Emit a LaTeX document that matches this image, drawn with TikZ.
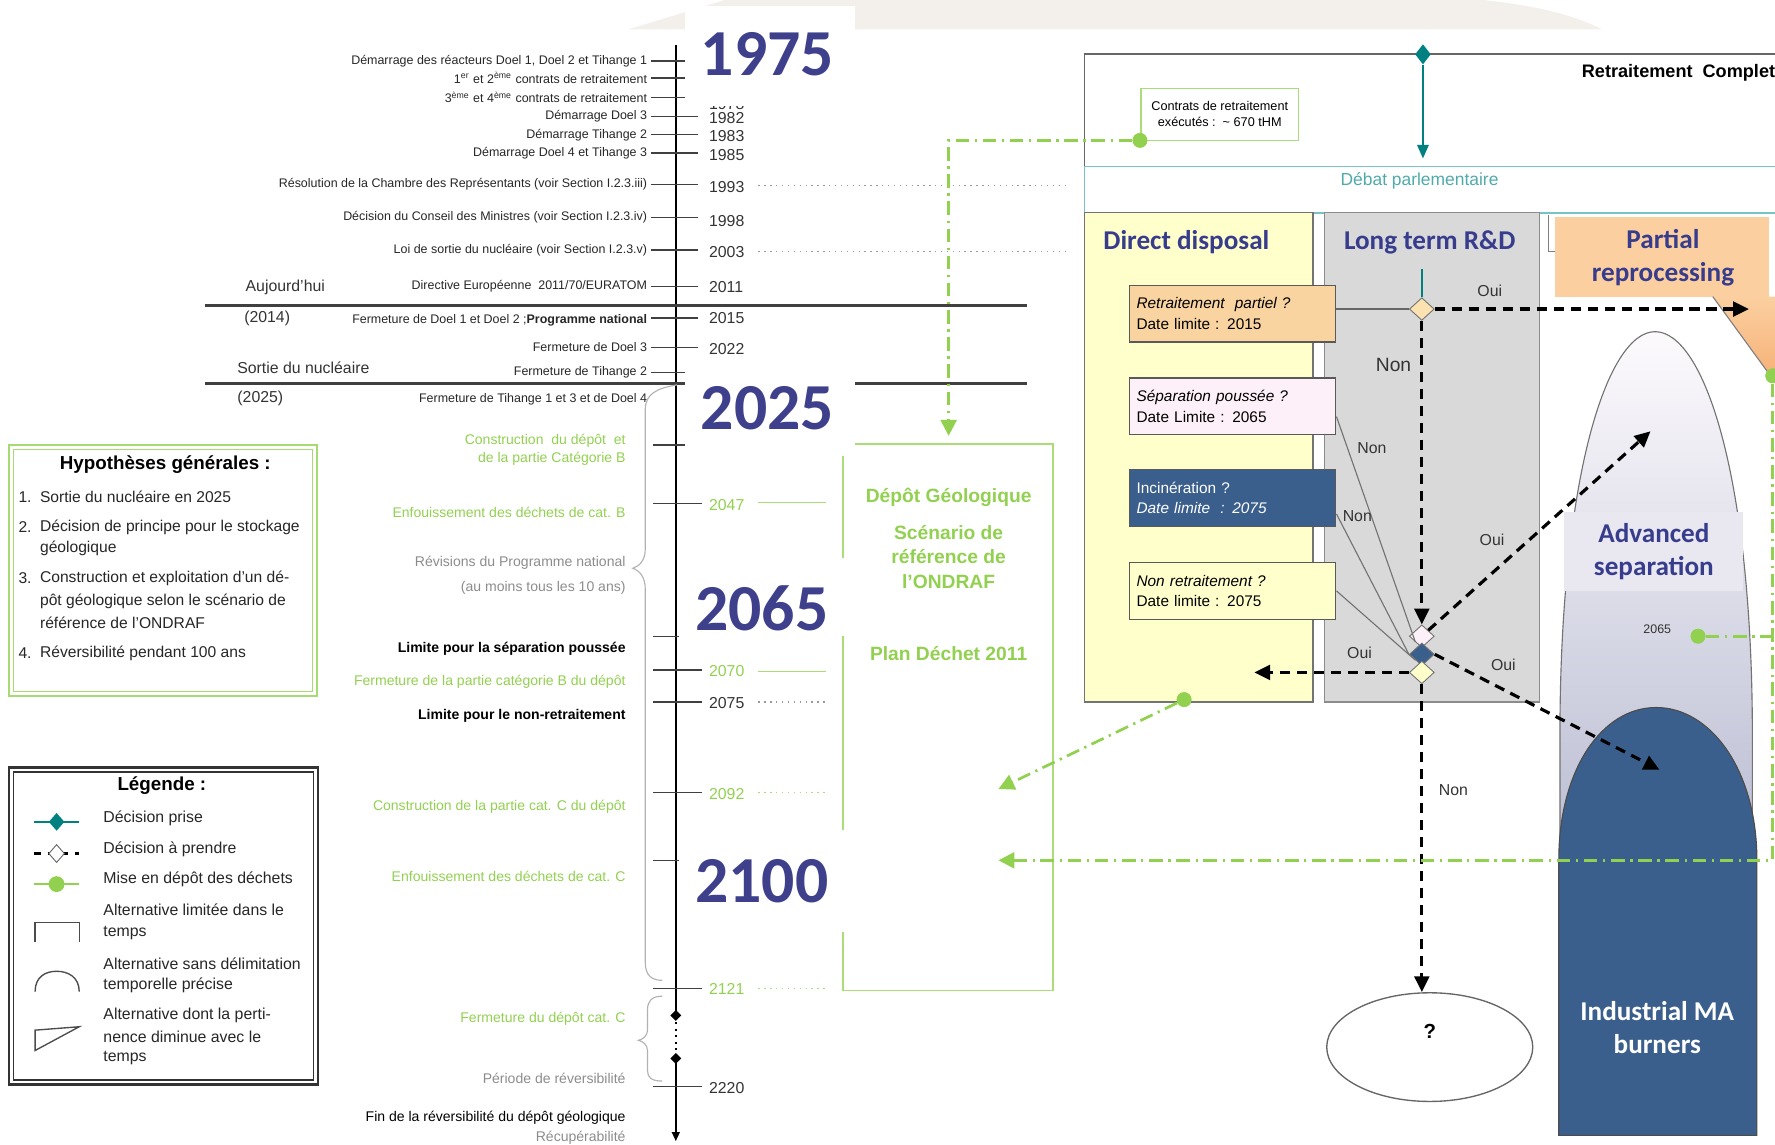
\documentclass[tikz,border=0pt]{standalone}
\usepackage{fontspec}
\setmainfont{Liberation Sans}
\newfontfamily\carl{Carlito}
\usetikzlibrary{arrows.meta,shapes.geometric,calc}
\newcommand\myfs[2]{\fontsize{#1}{#2}\selectfont}
\definecolor{yrblue}{RGB}{62,64,140}
\definecolor{ttlblue}{RGB}{55,60,140}
\definecolor{ondgreen}{RGB}{146,208,80}
\definecolor{lgreen}{RGB}{170,220,120}
\definecolor{tealD}{RGB}{0,128,128}
\definecolor{tealL}{RGB}{120,195,195}
\definecolor{tealT}{RGB}{80,170,170}
\definecolor{ddyel}{RGB}{255,255,204}
\definecolor{rdgrey}{RGB}{217,217,217}
\definecolor{prorange}{RGB}{251,207,160}
\definecolor{rporange}{RGB}{250,212,160}
\definecolor{dblue}{RGB}{59,95,140}
\definecolor{pinkL}{RGB}{253,240,248}
\definecolor{beige}{RGB}{243,240,236}
\definecolor{asbox}{RGB}{233,231,239}
\begin{document}
\begin{tikzpicture}[x=0.5pt,y=-0.5pt,
  evt/.style={anchor=east, inner sep=0pt, font=\myfs{5.5}{6.6}, text=black!85},
  evtg/.style={anchor=east, inner sep=0pt, font=\myfs{6.2}{7.4}, text=ondgreen},
  evtgr/.style={anchor=east, inner sep=0pt, font=\myfs{6.2}{7.4}, text=black!45},
  evtb/.style={anchor=east, inner sep=0pt, font=\bfseries\myfs{6.2}{7.4}, text=black},
  yrlab/.style={anchor=west, inner sep=0pt, font=\myfs{7}{8.4}, text=black!80},
  yrlabg/.style={yrlab, text=ondgreen},
  tk/.style={draw=black!75, line width=0.6pt},
  bigyr/.style={font=\carl\bfseries\myfs{29}{34}, text=yrblue, inner sep=0pt},
  ttl/.style={font=\carl\bfseries\myfs{12}{14.5}, text=ttlblue, align=center, inner sep=0pt},
  dbox/.style={draw=black!65, line width=0.6pt, minimum width=91pt, minimum height=25pt, text width=85pt, inner sep=3pt, align=left, font=\myfs{6.8}{9}},
  dec/.style={diamond, draw=black!55, line width=0.4pt, minimum width=11pt, minimum height=10pt, inner sep=0pt},
  darr/.style={black, line width=1.4pt, dash pattern=on 4.5pt off 3pt, -{Triangle[length=7pt,width=6.5pt]}},
  lab/.style={font=\myfs{7}{8.4}, text=black!80, inner sep=0pt},
  gdd/.style={ondgreen, line width=1.2pt, dash pattern=on 6pt off 2.5pt on 1pt off 2.5pt},
  garr/.style={gdd, -{Triangle[length=7pt,width=7pt]}},
  gdot/.style={circle, fill=ondgreen, inner sep=0pt, minimum size=6.5pt},
  legt/.style={anchor=west, inner sep=0pt, font=\myfs{7}{8.4}, text=black!85},
  hyp/.style={anchor=west, inner sep=0pt, font=\myfs{6.9}{8.4}, text=black!85},
  gline/.style={draw=lgreen, line width=0.6pt},
  dline/.style={draw=black!40, line width=0.6pt, dotted},
]
\useasboundingbox (0,0) rectangle (1568,1011);
% background shape at top
\fill[beige] (555,26) -- (640,0) -- (1310,0) .. controls (1360,5) and (1395,15) .. (1415,26) -- cycle;

% ---------------- timeline ----------------
\coordinate (axTop) at (597,40);
\coordinate (axM1) at (597,897);
\coordinate (axM2) at (597,935);
\coordinate (axBot) at (597,1008);
\draw[black, line width=0.7pt] (axTop) -- (axM1);
\draw[black, line width=0.9pt, dotted] (axM1) -- (axM2);
\draw[black, line width=0.7pt, -{Triangle[length=4pt,width=3.5pt]}] (axM2) -- (axBot);
\node[diamond, fill=black, minimum width=5pt, minimum height=5pt, inner sep=0pt] (mk1) at (axM1) {};
\node[diamond, fill=black, minimum width=5pt, minimum height=5pt, inner sep=0pt] (mk2) at (axM2) {};

% thick separators
\draw[black!75, line width=1.3pt] (181,270) -- (907,270);
\draw[black!75, line width=1.3pt] (181,339) -- (907,339);

% upper events
\node[evt] (e1) at (572,54) {Démarrage des réacteurs Doel 1, Doel 2 et Tihange 1};
\draw[tk] (575,54) -- (605,54);
\node[evt] (e2) at (572,69) {1\textsuperscript{er} et 2\textsuperscript{ème} contrats de retraitement};
\draw[tk] (575,69) -- (605,69);
\node[evt] (e3) at (572,86) {3\textsuperscript{ème} et 4\textsuperscript{ème} contrats de retraitement};
\draw[tk] (575,86) -- (605,86);
\node[yrlab] (y1978) at (626,92) {1978};
\node[evt] (e4) at (572,103) {Démarrage Doel 3};
\draw[tk] (575,103) -- (617,103);
\node[yrlab] (y1982) at (626,104) {1982};
\node[evt] (e5) at (572,119) {Démarrage Tihange 2};
\draw[tk] (575,119) -- (617,119);
\node[yrlab] (y1983) at (626,120) {1983};
\node[evt] (e6) at (572,135) {Démarrage Doel 4 et Tihange 3};
\draw[tk] (575,135) -- (617,135);
\node[yrlab] (y1985) at (626,137) {1985};
\node[evt] (e7) at (572,163) {Résolution de la Chambre des Représentants (voir Section I.2.3.iii)};
\draw[tk] (575,163) -- (617,163);
\node[yrlab] (y1993) at (626,165) {1993};
\draw[dline] (670,164) -- (945,164);
\node[evt] (e8) at (572,192) {Décision du Conseil des Ministres (voir Section I.2.3.iv)};
\draw[tk] (575,192) -- (617,192);
\node[yrlab] (y1998) at (626,195) {1998};
\node[evt] (e9) at (572,221) {Loi de sortie du nucléaire (voir Section I.2.3.v)};
\draw[tk] (575,221) -- (617,221);
\node[yrlab] (y2003) at (626,223) {2003};
\draw[dline] (670,222) -- (945,222);
\node[evt] (e10) at (572,253) {Directive Européenne\ \ 2011/70/EURATOM};
\draw[tk] (575,253) -- (617,253);
\node[yrlab] (y2011) at (626,254) {2011};
\node[evt] (e11) at (572,283) {Fermeture de Doel 1 et Doel 2 ;\textbf{Programme national}};
\draw[tk] (575,281) -- (617,281);
\node[yrlab] (y2015) at (626,281) {2015};
\node[evt] (e12) at (572,307) {Fermeture de Doel 3};
\draw[tk] (575,307) -- (617,307);
\node[yrlab] (y2022) at (626,308) {2022};
\node[evt] (e13) at (572,329) {Fermeture de Tihange 2};
\draw[tk] (575,329) -- (605,329);
\node[evt] (e14) at (572,353) {Fermeture de Tihange 1 et 3 et de Doel 4};

\node[font=\myfs{7}{8.4}, text=black!80, inner sep=0pt] (auj) at (252,254) {Aujourd'hui};
\node[font=\myfs{7}{8.4}, text=black!80, inner sep=0pt] (p2014) at (236,281) {(2014)};
\node[font=\myfs{7}{8.4}, text=black!80, inner sep=0pt] (sortie) at (268,325) {Sortie du nucléaire};
\node[font=\myfs{7}{8.4}, text=black!80, inner sep=0pt] (p2025) at (230,352) {(2025)};

% braces
\draw[black!30, line width=0.5pt] (598,340) .. controls (580,343) and (570,348) .. (570,362) -- (570,485) .. controls (570,495) and (565,500) .. (559,502) .. controls (565,504) and (570,510) .. (570,520) -- (570,850) .. controls (570,862) and (576,866) .. (585,866);
\draw[black!30, line width=0.5pt] (585,880) .. controls (576,880) and (572,884) .. (572,892) -- (572,910) .. controls (572,915) and (568,918) .. (564,919) .. controls (568,920) and (572,923) .. (572,928) -- (572,946) .. controls (572,952) and (576,955) .. (585,955);

% lower events
\node[evtg] (f1) at (553,389) {Construction\ \ du dépôt\ \ et};
\node[evtg] (f1b) at (553,405) {de la partie Catégorie B};
\draw[tk] (577,393) -- (605,393);
\node[evtg] (f2) at (553,453) {Enfouissement des déchets de cat. B};
\draw[tk] (577,445) -- (620,445);
\node[yrlabg] (y2047) at (626,446) {2047};
\draw[gline] (670,444) -- (730,444);
\node[evtgr] (f3) at (553,497) {Révisions du Programme national};
\node[evtgr] (f3b) at (553,519) {(au moins tous les 10 ans)};
\node[evtb] (f4) at (553,573) {Limite pour la séparation poussée};
\draw[tk] (577,562) -- (600,562);
\node[evtg] (f5) at (553,602) {Fermeture de la partie catégorie B du dépôt};
\draw[tk] (577,592) -- (620,592);
\node[yrlabg] (y2070) at (626,593) {2070};
\draw[gline] (670,593) -- (730,593);
\node[evtb] (f6) at (553,632) {Limite pour le non-retraitement};
\draw[tk] (577,620) -- (620,620);
\node[yrlab] (y2075) at (626,621) {2075};
\draw[dline] (670,620) -- (730,620);
\node[evtg] (f7) at (553,713) {Construction de la partie cat. C du dépôt};
\draw[tk] (577,700) -- (620,700);
\node[yrlabg] (y2092) at (626,701) {2092};
\draw[gline, dotted] (670,700) -- (730,700);
\node[evtg] (f8) at (553,774) {Enfouissement des déchets de cat. C};
\draw[tk] (577,760) -- (600,760);
\draw[tk] (577,873) -- (620,873);
\node[yrlabg] (y2121) at (626,874) {2121};
\draw[gline, dotted] (670,873) -- (730,873);
\node[evtg] (f9) at (553,900) {Fermeture du dépôt cat. C};
\node[evtgr] (f10) at (553,953) {Période de réversibilité};
\draw[tk] (577,960) -- (620,960);
\node[yrlab] (y2220) at (626,961) {2220};
\node[evt, font=\myfs{6.2}{7.4}, text=black] (f11) at (553,987) {Fin de la réversibilité du dépôt géologique};
\node[evtgr] (f12) at (553,1005) {Récupérabilité};

% Depot geologique box
\draw[lgreen, line width=0.8pt] (745,392) rectangle (930,875);
\node[font=\bfseries\myfs{8.5}{10}, text=ondgreen, inner sep=0pt] (dg1) at (838,439) {Dépôt Géologique};
\node[font=\bfseries\myfs{8.5}{11}, text=ondgreen, align=center, inner sep=0pt] (dg2) at (838,492) {Scénario de\\référence de\\l’ONDRAF};
\node[font=\bfseries\myfs{8.5}{10}, text=ondgreen, inner sep=0pt] (dg3) at (838,577) {Plan Déchet 2011};

% white boxes and big years
\fill[white] (605,5) rectangle (755,94);
\fill[white] (605,333) rectangle (755,403);
\fill[white] (605,493) rectangle (750,562);
\fill[white] (605,733) rectangle (750,823);
\node[bigyr] (Y1975) at (678,48) {1975};
\node[bigyr] (Y2025) at (678,361) {2025};
\node[bigyr] (Y2065) at (673,537) {2065};
\node[bigyr] (Y2100) at (673,778) {2100};

% ---------------- Hypotheses box ----------------
\draw[ondgreen!80, line width=0.8pt] (8,393) rectangle (280,615);
\draw[ondgreen!80, line width=0.6pt] (12,397) rectangle (276,611);
\node[font=\bfseries\myfs{8.3}{10}, inner sep=0pt] (hypT) at (146,410) {Hypothèses générales :};
\node[hyp] (h1n) at (16,439) {1.};
\node[hyp] (h1) at (35,439) {Sortie du nucléaire en 2025};
\node[hyp] (h2n) at (16,466) {2.};
\node[hyp] (h2) at (35,466) {Décision de principe pour le stockage};
\node[hyp] (h2b) at (35,484) {géologique};
\node[hyp] (h3n) at (16,511) {3.};
\node[hyp] (h3) at (35,511) {Construction et exploitation d’un dé-};
\node[hyp] (h3b) at (35,531) {pôt géologique selon le scénario de};
\node[hyp] (h3c) at (35,550) {référence de l’ONDRAF};
\node[hyp] (h4n) at (16,577) {4.};
\node[hyp] (h4) at (35,577) {Réversibilité pendant 100 ans};

% ---------------- Legend ----------------
\draw[black!80, line width=1.2pt] (8,678) rectangle (281,958);
\draw[black!80, line width=0.5pt] (12,682) rectangle (277,954);
\node[font=\bfseries\myfs{8.3}{10}, inner sep=0pt] (legT) at (143,694) {Légende :};
\draw[tealD, line width=1pt] (30,726) -- (70,726);
\node[diamond, fill=tealD, minimum width=7pt, minimum height=8pt, inner sep=0pt] (lg1) at (50,726) {};
\draw[black, line width=1pt, dash pattern=on 3pt off 3pt] (30,754) -- (70,754);
\node[diamond, draw=black!60, fill=white, minimum width=7pt, minimum height=8pt, inner sep=0pt] (lg2) at (50,754) {};
\draw[ondgreen, line width=1.2pt] (30,781) -- (70,781);
\node[gdot, minimum size=7pt] (lg3) at (50,781) {};
\draw[black!70, line width=0.6pt] (31,832) -- (31,815) -- (70,815) -- (70,832);
\draw[black!70, line width=0.6pt] (31,876) .. controls (31,863) and (40,858) .. (50,858) .. controls (60,858) and (70,863) .. (70,876);
\draw[black!70, line width=0.6pt] (31,928) -- (31,910) -- (70,907) -- cycle;
\node[legt] (l1) at (91,723) {Décision prise};
\node[legt] (l2) at (91,750) {Décision à prendre};
\node[legt] (l3) at (91,777) {Mise en dépôt des déchets};
\node[legt] (l4) at (91,804) {Alternative limitée dans le};
\node[legt] (l4b) at (91,824) {temps};
\node[legt] (l5) at (91,851) {Alternative sans délimitation};
\node[legt] (l5b) at (91,870) {temporelle précise};
\node[legt] (l6) at (91,897) {Alternative dont la perti-};
\node[legt] (l6b) at (91,916) {nence diminue avec le};
\node[legt] (l6c) at (91,935) {temps};

% ---------------- right part ----------------
\draw[black!60, line width=0.8pt] (1568,48) -- (958,48) -- (958,147);
\draw[tealL, line width=0.8pt] (1568,147) -- (958,147) -- (958,188) -- (1568,188);
\node[text=tealT, font=\myfs{7.7}{9}, inner sep=0pt] (debat) at (1254,160) {Débat parlementaire};
\node[anchor=west, font=\bfseries\myfs{8}{9.6}, inner sep=0pt] (rc) at (1397,64) {Retraitement\ \ Complet};
\node[draw=lgreen, line width=0.6pt, align=center, font=\myfs{5.6}{7}, minimum width=69.5pt, minimum height=23pt, inner sep=1pt] (contrats) at (1077.5,101) {Contrats de retraitement\\exécutés :\ \ \textasciitilde\ 670 tHM};
\node[diamond, fill=tealD, minimum width=7pt, minimum height=9pt, inner sep=0pt] (td) at (1257,48) {};
\coordinate (tdEnd) at (1257,140);
\draw[tealD, line width=0.9pt, -{Triangle[length=6pt,width=5pt]}] (td) -- (tdEnd);

% columns
\draw[black!55, line width=0.6pt, fill=ddyel] (958,188) rectangle (1160,620);
\draw[black!45, line width=0.6pt, fill=rdgrey] (1170,188) rectangle (1360,620);
\draw[black!50, line width=0.6pt] (1368,190) -- (1368,222) -- (1374,222);
\node[ttl] (ddT) at (1048,214) {Direct disposal};
\node[ttl] (rdT) at (1263,214) {Long term R\&D};
\fill[prorange] (1374,192) rectangle (1563,262);
\node[ttl] (prT) at (1469,228) {Partial\\reprocessing};
\path[top color=prorange, bottom color={rgb,255:red,246;green,178;blue,120}] (1513,262) -- (1568,262) -- (1568,332) -- (1564,332) -- cycle;
\draw[black!50, line width=0.5pt] (1513,262) -- (1564,332);

% advanced separation shape
\path[draw=black!55, line width=0.5pt, top color={rgb,255:red,253;green,250;blue,253}, bottom color={rgb,255:red,150;green,157;blue,188}] (1378,1003) -- (1378,650) .. controls (1378,420) and (1420,293) .. (1462,293) .. controls (1505,293) and (1548,420) .. (1548,650) -- (1548,1003) -- cycle;
\fill[asbox] (1382,452) rectangle (1540,522);
\node[ttl] (asT) at (1461,487) {Advanced\\separation};
\node[font=\myfs{5.5}{6.6}, text=black!80, inner sep=0pt] (as65) at (1464,556) {2065};
% industrial burners
\path[draw=black!70, line width=0.5pt, fill=dblue] (1377,1003) -- (1377,760) .. controls (1377,680) and (1415,625) .. (1463,625) .. controls (1511,625) and (1552,680) .. (1552,760) -- (1552,1003) -- cycle;
\node[ttl, text=white] (imT) at (1464,908) {Industrial MA\\burners};

% decision boxes
\node[dbox, fill=rporange] (rp) at (1089,277) {\textit{Retraitement\ \ partiel ?}\\Date limite : 2015};
\node[dbox, fill=pinkL] (sp) at (1089,359) {\textit{Séparation poussée ?}\\Date Limite : 2065};
\node[dbox, fill=dblue, text=white] (inc) at (1089,440) {Incinération ?\\\textit{Date limite\ \ : 2075}};
\node[dbox, fill=ddyel] (nr) at (1089,522) {\textit{Non retraitement ?}\\Date limite : 2075};

% diamonds
\node[dec, fill={rgb,255:red,252;green,226;blue,176}] (d1) at (1256,273) {};
\node[dec, fill=pinkL] (d2) at (1256,562) {};
\node[dec, fill=dblue] (d3) at (1256,578) {};
\node[dec, fill=ddyel] (d4) at (1256,594) {};

\coordinate (tealtop) at (1256,238);
\draw[tealD, line width=0.8pt] (tealtop) -- (d1.north);
\draw[black!60, line width=0.6pt] (rp.east |- d1.west) -- (d1.west);
\draw[black!55, line width=0.5pt] ([yshift=-4.5pt]sp.east) -- (d2.south west);
\draw[black!55, line width=0.5pt] ([yshift=-7pt]inc.east) -- (d3.west);
\draw[black!55, line width=0.5pt] (nr.east) -- (d3.south west);

% question ellipse
\node[ellipse, draw=black!60, line width=0.6pt, minimum width=91pt, minimum height=48pt] (q) at (1263,925) {};
\node[font=\bfseries\myfs{9}{10}, inner sep=0pt] (qm) at (1263,911) {?};

% dashed arrows
\coordinate (prTip) at (1545,273);
\coordinate (asTip) at (1458,381);
\coordinate (imTip) at (1466,680);
\coordinate (ddTip) at (1108,594);
\draw[darr] (d1.east) -- (prTip);
\draw[darr] (d1.south) -- (d2.north);
\draw[darr] (d2.north east) -- (asTip);
\draw[darr] (d3.east) -- (imTip);
\draw[darr] (d4.west) -- (ddTip);
\draw[darr] (d4.south) -- (d4.south |- q.north);

% labels
\node[lab] (o1) at (1316,257) {Oui};
\node[lab, font=\myfs{8.5}{10}] (n1) at (1231,322) {Non};
\node[lab] (n2) at (1212,396) {Non};
\node[lab] (n3) at (1199,456) {Non};
\node[lab] (o2) at (1318,477) {Oui};
\node[lab] (o3) at (1201,577) {Oui};
\node[lab] (o4) at (1328,587) {Oui};
\node[lab] (n4) at (1284,698) {Non};

% green dash-dot connectors
\node[gdot] (gd1) at (1007,124) {};
\node[gdot] (gd2) at (1046,618) {};
\node[gdot] (gd3) at (1566,332) {};
\node[gdot] (gd4) at (1500,562) {};
\coordinate (g1end) at (838,385);
\coordinate (g2end) at (882,697);
\coordinate (gcorner) at (1566,760);
\coordinate (g3end) at (882,760);
\coordinate (g4end) at (1568,562);
\draw[garr] (gd1) -| (g1end);
\draw[garr] (gd2) -- (g2end);
\draw[garr] (gd3) -- (gcorner) -- (g3end);
\draw[gdd] (gd4) -- (g4end);
\node[gdot] at (gd1) {};
\node[gdot] at (gd2) {};
\node[gdot] at (gd3) {};
\node[gdot] at (gd4) {};
\end{tikzpicture}
\end{document}
